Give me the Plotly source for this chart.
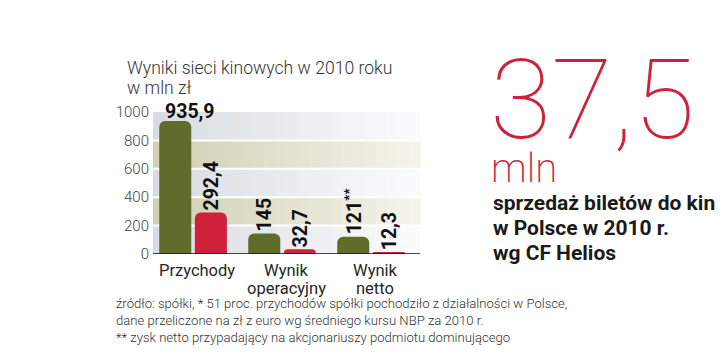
import plotly.graph_objects as go

# ---- data ----
categories = ["Przychody", "Wynik operacyjny", "Wynik netto"]
group_values = [935.9, 145, 121]      # cała sieć (green)
poland_values = [292.4, 32.7, 12.3]   # Polska (red)
green_labels = ["935,9", "145", "121<sup>**</sup>"]
red_labels = ["292,4", "32,7", "12,3"]
y_ticks = [0, 200, 400, 600, 800, 1000]
title_lines = ["Wyniki sieci kinowych w 2010 roku", "w mln zł"]
big_number = "37,5"
big_unit = "mln"
side_lines = ["sprzedaż biletów do kin", "w Polsce w 2010 r.", "wg CF Helios"]
footnote_lines = [
    "źródło: spółki, * 51 proc. przychodów spółki pochodziło z działalności w Polsce,",
    "dane przeliczone na zł z euro wg średniego kursu NBP za 2010 r.",
    "** zysk netto przypadający na akcjonariuszy podmiotu dominującego",
]

W, H = 720, 355
L, R, T, B = 153, 300, 112, 101
PW, PH = W - L - R, H - T - B

def px(x):
    return (x - L) / PW

def py(y):
    return (H - B - y) / PH

GREEN = "#5f6d2c"
RED = "#d0213c"
TXT = "#262626"

fig = go.Figure()
fig.add_trace(go.Bar(x=categories, y=group_values, marker_color=GREEN,
                     marker_line_width=0, hoverinfo="skip"))
fig.add_trace(go.Bar(x=categories, y=poland_values, marker_color=RED,
                     marker_line_width=0, hoverinfo="skip"))

def mix(c1, c2, t):
    a = [int(c1[i:i + 2], 16) for i in (1, 3, 5)]
    b = [int(c2[i:i + 2], 16) for i in (1, 3, 5)]
    return "rgb(%d,%d,%d)" % tuple(round(a[k] + (b[k] - a[k]) * t) for k in range(3))

shapes = []
band_cols = {True: ("#d8dce1", "#fbfbfc"), False: ("#d0d0b2", "#f4f4ea")}
n = 24
for i in range(len(y_ticks) - 1):
    y0, y1 = y_ticks[i], y_ticks[i + 1]
    gray = (i % 2 == 0)
    c0, c1 = band_cols[gray]
    for k in range(n):
        shapes.append(dict(type="rect", xref="paper", yref="y",
                           x0=k / n, x1=(k + 1) / n + 0.002, y0=y0, y1=y1,
                           fillcolor=mix(c0, c1, k / (n - 1)), line_width=0,
                           layer="below"))
for yv in y_ticks[1:-1]:
    shapes.append(dict(type="line", xref="paper", yref="y", x0=0, x1=1,
                       y0=yv, y1=yv, line=dict(color="white", width=2), layer="below"))
shapes.append(dict(type="line", xref="paper", yref="y", x0=0, x1=1, y0=0, y1=0,
                   line=dict(color="#111", width=1.5)))

ann = []
lab_font = dict(family="Roboto", size=19.5, color="#111", weight="bold")
cat_font = dict(family="Roboto", size=16.5, color=TXT)
for i, c in enumerate(categories):
    if i == 0:
        ann.append(dict(x=c, y=group_values[i], xref="x", yref="y", text=green_labels[i],
                        showarrow=False, xshift=-3, yanchor="bottom", yshift=-4,
                        font=lab_font))
    else:
        ann.append(dict(x=c, y=group_values[i], xref="x", yref="y", text=green_labels[i],
                        showarrow=False, xshift=-18, yanchor="bottom", textangle=-90,
                        font=lab_font))
    ann.append(dict(x=c, y=poland_values[i], xref="x", yref="y", text=red_labels[i],
                    showarrow=False, xshift=18, yanchor="bottom", textangle=-90,
                    font=lab_font))
    for j, word in enumerate(c.split(" ")):
        ann.append(dict(x=c, y=py(270 + 18 * j), xref="x", yref="paper", text=word,
                        showarrow=False, xshift=4, yanchor="middle", font=cat_font))

for j, t in enumerate(title_lines):
    ann.append(dict(x=px(125), y=py(68 + 20 * j), xref="paper", yref="paper", text=t,
                    showarrow=False, xanchor="left", yanchor="middle",
                    font=dict(family="Roboto", size=17.6, color="#333", weight=300)))

ann.append(dict(x=px(488), y=py(167), xref="paper", yref="paper", text=big_number,
                showarrow=False, xanchor="left", yanchor="bottom",
                font=dict(family="Roboto", size=112, color=RED, weight=100)))
ann.append(dict(x=px(489), y=py(194), xref="paper", yref="paper", text=big_unit,
                showarrow=False, xanchor="left", yanchor="bottom",
                font=dict(family="Roboto", size=40, color=RED, weight=200)))
for j, t in enumerate(side_lines):
    ann.append(dict(x=px(491), y=py(203 + 25 * j), xref="paper", yref="paper", text=t,
                    showarrow=False, xanchor="left", yanchor="middle",
                    font=dict(family="Roboto", size=21, color="#1a1a1a", weight="bold")))
for j, t in enumerate(footnote_lines):
    ann.append(dict(x=px(114), y=py(303 + 17 * j), xref="paper", yref="paper", text=t,
                    showarrow=False, xanchor="left", yanchor="middle",
                    font=dict(family="Roboto", size=13.1, color="#333", weight=300)))

fig.update_layout(
    width=W, height=H, margin=dict(l=L, r=R, t=T, b=B, autoexpand=False),
    paper_bgcolor="white", plot_bgcolor="white",
    barmode="group", bargap=0.2, bargroupgap=0.1, barcornerradius=6,
    showlegend=False, shapes=shapes, annotations=ann,
    xaxis=dict(range=[-0.45, 2.55], showgrid=False, zeroline=False, showline=False,
               ticks="", automargin=False, showticklabels=False, fixedrange=True),
    yaxis=dict(range=[0, 1000], tickvals=y_ticks, showgrid=False, zeroline=False,
               showline=False, ticks="", ticklabelstandoff=3, automargin=False,
               tickfont=dict(family="Roboto", size=15, color="#444", weight=300),
               fixedrange=True),
)
fig.write_html("out.html", config={"displayModeBar": False},
               post_script="document.body.style.margin='0';document.body.style.padding='0';")
